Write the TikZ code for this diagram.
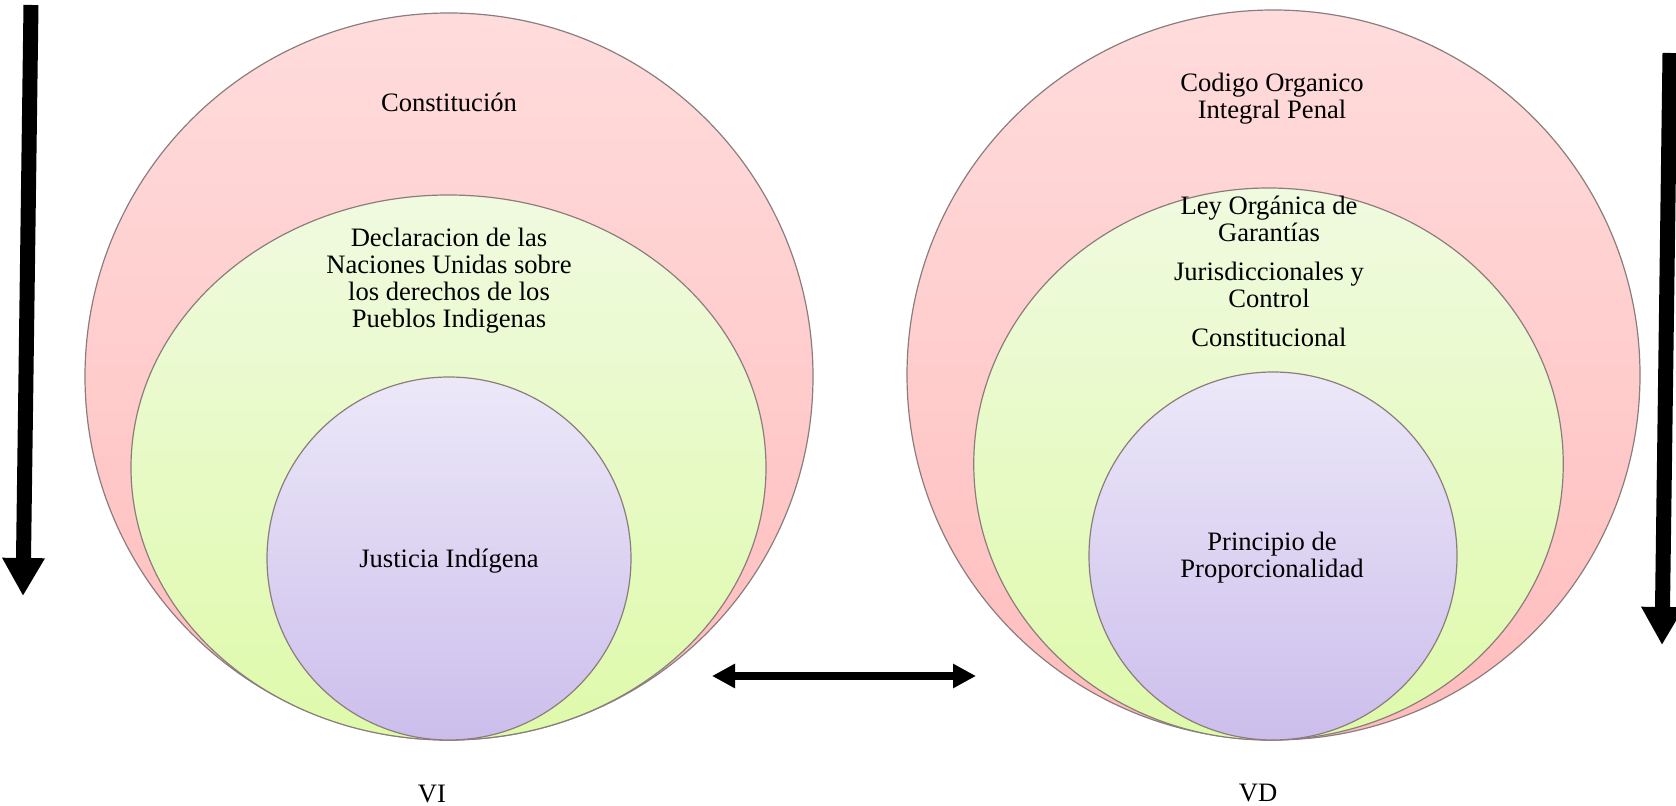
\documentclass[tikz,border=0pt]{standalone}
\usepackage{fontspec}
\setmainfont{Liberation Serif}
\usepackage{tikz}
\usetikzlibrary{shapes.geometric,arrows.meta}
\definecolor{pinktop}{RGB}{255,220,220}
\definecolor{pinkbot}{RGB}{255,188,188}
\definecolor{greentop}{RGB}{240,250,224}
\definecolor{greenbot}{RGB}{222,250,170}
\definecolor{purpletop}{RGB}{236,232,248}
\definecolor{purplebot}{RGB}{204,190,236}
\definecolor{rim}{RGB}{140,125,125}

\begin{document}
\begin{tikzpicture}[x=0.5pt,y=-0.5pt,
		disc/.style={ellipse, draw=rim, line width=0.6pt, inner sep=0pt},
		txt/.style={font=\fontsize{13.3pt}{13.5pt}\selectfont, align=center, inner sep=0pt, anchor=base}]
			\useasboundingbox (0,0) rectangle (1676,806);
			% VI
			\node[disc, top color=pinktop, bottom color=pinkbot, minimum width=364pt, minimum height=363.5pt] (vipink) at (449,376.5) {};
			\node[disc, top color=greentop, bottom color=greenbot, minimum width=317.5pt, minimum height=272.5pt] (vigreen) at (448.5,467.5) {};
			\node[disc, top color=purpletop, bottom color=purplebot, minimum width=182pt, minimum height=181.5pt] (vipurple) at (449,558.5) {};
			\node[txt] (const) at (449,112) {Constitución};
			\node[txt] (decl) at (449,328) {Declaracion de las\\Naciones Unidas sobre\\los derechos de los\\Pueblos Indigenas};
			\node[txt] (justicia) at (449,567.5) {Justicia Indígena};
			\node[txt] (vi) at (432,802) {VI};
			% VD
			\node[disc, top color=pinktop, bottom color=pinkbot, minimum width=366.5pt, minimum height=365pt] (vdpink) at (1273.5,375) {};
			\node[disc, top color=greentop, bottom color=greenbot, minimum width=294.75pt, minimum height=276pt] (vdgreen) at (1268.5,464) {};
			\node[disc, top color=purpletop, bottom color=purplebot, minimum width=184pt, minimum height=184pt] (vdpurple) at (1273,556) {};
			\node[txt] (codigo) at (1272,119) {Codigo Organico\\Integral Penal};
			\node[txt] (ley) at (1269,347) {Ley Orgánica de\\Garantías\\[6pt]Jurisdiccionales y\\Control\\[6pt]Constitucional};
			\node[txt] (principio) at (1272,578) {Principio de\\Proporcionalidad};
			\node[txt] (vd) at (1258,801) {VD};
			% flechas
			\coordinate (a1) at (31,5);
			\coordinate (a2) at (23,596);
			\coordinate (b1) at (1670,53);
			\coordinate (b2) at (1662,645);
			\coordinate (c1) at (712,676);
			\coordinate (c2) at (976,676);
			\draw[line width=7.5pt, -{Triangle[length=19pt,width=20pt]}] (a1) -- (a2);
			\draw[line width=7.5pt, -{Triangle[length=19pt,width=20pt]}] (b1) -- (b2);
			\draw[line width=3.8pt, {Triangle[length=11.5pt,width=11.5pt]}-{Triangle[length=11.5pt,width=11.5pt]}] (c1) -- (c2);
		\end{tikzpicture}
\end{document}
